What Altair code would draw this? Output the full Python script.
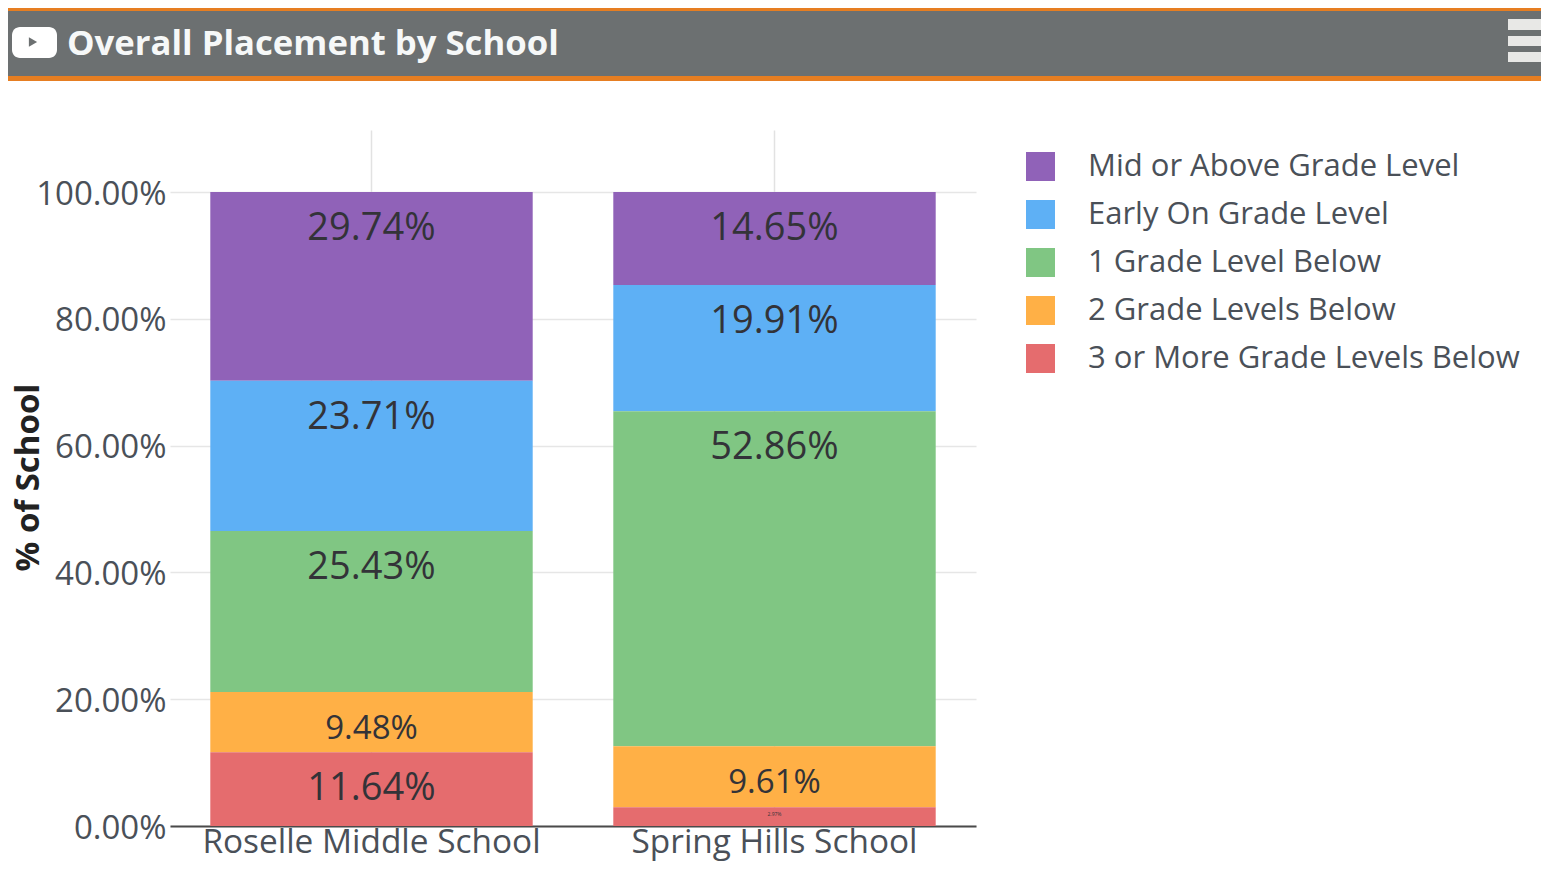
import altair as alt
import pandas as pd

schools = ["Roselle Middle School", "Spring Hills School"]
levels = ["Mid or Above Grade Level", "Early On Grade Level", "1 Grade Level Below",
          "2 Grade Levels Below", "3 or More Grade Levels Below"]
colors = ["#9062b8", "#5eb0f5", "#80c683", "#ffb046", "#e56c6e"]
roselle = [29.74, 23.71, 25.43, 9.48, 11.64]
spring = [14.65, 19.91, 52.86, 9.61, 2.97]
y_ticks = [0, 20, 40, 60, 80, 100]
title_text = "Overall Placement by School"
FONT = "Open Sans"

rows = []
for i, lev in enumerate(levels):
    rows.append({"school": schools[0], "level": lev, "rank": i, "value": roselle[i]})
    rows.append({"school": schools[1], "level": lev, "rank": i, "value": spring[i]})
df = pd.DataFrame(rows)

base = (alt.Chart(df)
        .transform_stack(stack="value", groupby=["school"], as_=["y0", "y1"],
                         sort=[alt.SortField("rank", order="descending")])
        .transform_calculate(
            label="format(datum.value,'.2f')+'%'",
            label_y="datum.y1-(datum.value<5?datum.value/2-0.8:5.45)",
            fs="datum.value>=11?38:(datum.value>=5?33:5)"))

x_enc = alt.X("school:N", sort=schools, title=None,
              scale=alt.Scale(paddingInner=0.2, paddingOuter=0.1),
              axis=alt.Axis(labelAngle=0, labelFontSize=33.4, labelFont=FONT, labelColor="#4a5058",
                            labelPadding=0, labelLimit=600, ticks=False, domain=True,
                            domainColor="#4a4a4a", domainWidth=2, grid=True,
                            gridColor="#e2e2e2", gridWidth=1.5))
y_scale = alt.Scale(domain=[0, 109.8], nice=False, zero=True)

bars = base.mark_bar().encode(
    x=x_enc,
    y=alt.Y("y0:Q", scale=y_scale, title="% of School",
            axis=alt.Axis(values=y_ticks, labelExpr="format(datum.value,'.2f')+'%'",
                          labelFontSize=33, labelFont=FONT, labelColor="#4a5058", labelPadding=4,
                          labelOffset=2, ticks=False, domain=False, grid=True,
                          gridColor="#e6e6e6", gridWidth=1.5,
                          titleFont=FONT, titleFontSize=33, titleFontWeight="bold", titleColor="#222",
                          titleX=-125, titleY=347)),
    y2="y1:Q",
    color=alt.Color("level:N", sort=levels, scale=alt.Scale(domain=levels, range=colors),
                    legend=alt.Legend(orient="none", legendX=855, legendY=21, title=None, padding=0,
                                      symbolType="square", symbolSize=841, symbolStrokeWidth=0,
                                      labelFont=FONT, labelFontSize=31, labelColor="#4a5058",
                                      labelOffset=32, rowPadding=16, labelLimit=500)),
)

labels = base.mark_text(font=FONT, color="#333338", baseline="middle", align="center", dy=2.5).encode(
    x=alt.X("school:N", sort=schools),
    y=alt.Y("label_y:Q", scale=y_scale),
    text="label:N",
    size=alt.Size("fs:Q", scale=None, legend=None),
)

blank = alt.Chart(alt.Data(values=[{"a": 1}]))
def box(x0, x1, y0, y1, color, **kw):
    # header furniture, in pixels relative to the plot origin (170, 130 on the page)
    return blank.mark_rect(color=color, **kw).encode(
        x=alt.value(x0 - 170), x2=alt.value(x1 - 170),
        y=alt.value(y0 - 130), y2=alt.value(y1 - 130))

header = [
    box(7, 1549, 5, 81, "#e67e22"),
    box(7, 1549, 11, 76, "#6c7071"),
    box(12, 57, 27, 58, "#ffffff", cornerRadius=8),
    box(1508, 1549, 19, 30, "#e8e8e6"),
    box(1508, 1549, 36, 46, "#e8e8e6"),
    box(1508, 1549, 52, 62, "#e8e8e6"),
    blank.mark_point(shape="triangle-right", filled=True, color="#6c7071", size=90, opacity=1).encode(
        x=alt.value(33 - 170), y=alt.value(42 - 130)),
    blank.mark_text(text=title_text, font=FONT, fontSize=34.7, fontWeight="bold", color="#f6f8f8",
                    align="left", baseline="middle").encode(
        x=alt.value(67 - 170), y=alt.value(44.5 - 130)),
]

chart = (alt.layer(*header, bars, labels)
         .resolve_scale(y="shared")
         .properties(width=806, height=696,
                     padding={"left": 162, "top": 122, "right": 565, "bottom": 36},
                     autosize=alt.AutoSizeParams(type="none"))
         .configure_view(stroke=None))

chart.save("out.html", embed_options={"renderer": "svg", "actions": False})
